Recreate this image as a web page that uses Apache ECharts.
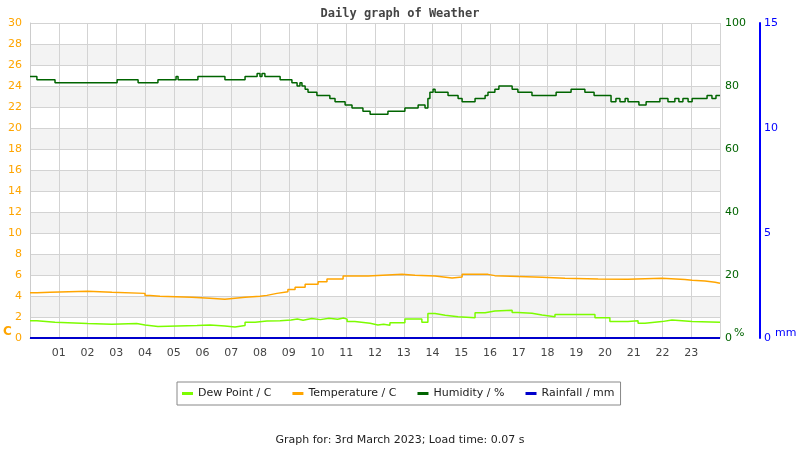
<!DOCTYPE html>
<html>
<head>
<meta charset="utf-8">
<script src="https://cdn.jsdelivr.net/npm/echarts@6/dist/echarts.min.js"></script>
<style>
  html, body { margin: 0; padding: 0; background: #fff; }
  #chart { width: 800px; height: 450px; }
</style>
</head>
<body>
<div id="chart"></div>
<script>
// readings as [hour, value], value holds until the next point
const dewPoint = [
  [0, 1.65], [0.24, 1.5], [0.87, 1.37], [2.0, 1.3], [2.85, 1.37], [3.71, 1.24], [4.0, 1.1],
  [4.45, 1.18], [5.81, 1.24], [6.26, 1.14], [6.78, 1.05], [7.13, 1.18], [7.48, 1.5], [7.83, 1.62],
  [8.24, 1.65], [8.7, 1.71], [9.08, 1.81], [9.3, 1.7], [9.5, 1.85], [9.8, 1.75], [10.1, 1.87],
  [10.4, 1.78], [10.7, 1.9], [10.9, 1.8], [11.03, 1.56], [11.3, 1.4], [11.83, 1.24], [12.1, 1.32],
  [12.3, 1.22], [12.52, 1.45], [13.04, 1.81], [13.63, 1.49], [13.84, 2.33], [14.09, 2.17],
  [14.44, 2.02], [14.89, 1.94], [15.48, 2.4], [15.83, 2.57], [16.17, 2.65], [16.77, 2.44],
  [16.97, 2.35], [17.46, 2.19], [17.81, 2.03], [18.26, 2.25], [19.65, 1.94], [20.17, 1.56],
  [20.8, 1.65], [21.15, 1.4], [21.39, 1.56], [21.98, 1.71], [22.33, 1.56], [23.03, 1.49], [24, 1.49]
];
const temperature = [
  [0, 4.3], [0.24, 4.35], [0.7, 4.45], [2.0, 4.35], [2.85, 4.25], [4.0, 4.05], [4.17, 3.97],
  [4.52, 3.87], [5.63, 3.78], [6.26, 3.68], [6.78, 3.78], [7.13, 3.87], [7.48, 3.97], [8.0, 4.06],
  [8.24, 4.25], [8.59, 4.4], [8.97, 4.63], [9.22, 4.83], [9.57, 5.11], [10.02, 5.36], [10.33, 5.62],
  [10.89, 5.9], [11.76, 6.06], [12.94, 5.97], [13.39, 5.9], [14.09, 5.71], [14.68, 5.81],
  [15.03, 6.06], [15.93, 5.94], [16.17, 5.78], [17.81, 5.68], [18.61, 5.62], [19.76, 5.59],
  [20.8, 5.68], [21.98, 5.56], [22.78, 5.49], [23.03, 5.43], [23.48, 5.3], [23.83, 5.21], [24, 5.21]
];
const humidity = [
  [0, 83], [0.24, 82], [0.87, 81], [3.03, 82], [3.76, 81], [4.45, 82], [5.08, 83], [5.15, 82],
  [5.84, 83], [6.78, 82], [7.48, 83], [7.9, 84], [8.0, 83], [8.07, 84], [8.17, 83], [8.7, 82],
  [9.11, 81], [9.29, 80], [9.39, 81], [9.46, 80], [9.57, 79], [9.67, 78], [9.98, 77], [10.43, 76],
  [10.61, 75], [10.96, 74], [11.2, 73], [11.58, 72], [11.83, 71], [12.45, 72], [13.04, 73],
  [13.5, 74], [13.74, 73], [13.84, 76], [13.91, 78], [14.02, 79], [14.09, 78], [14.54, 77],
  [14.89, 76], [15.03, 75], [15.48, 76], [15.83, 77], [15.93, 78], [16.17, 79], [16.31, 80],
  [16.77, 79], [16.97, 78], [17.46, 77], [18.3, 78], [18.82, 79], [19.3, 78], [19.62, 77],
  [20.21, 75], [20.38, 76], [20.52, 75], [20.7, 76], [20.8, 75], [21.18, 74], [21.43, 75],
  [21.91, 76], [22.19, 75], [22.43, 76], [22.57, 75], [22.71, 76], [22.89, 75], [23.03, 76],
  [23.55, 77], [23.72, 76], [23.86, 77], [24, 77]
];
const rainfall = [[0, 0], [24, 0]];

const hourLabels = ['', '01', '02', '03', '04', '05', '06', '07', '08', '09', '10', '11', '12',
  '13', '14', '15', '16', '17', '18', '19', '20', '21', '22', '23', ''];

const chart = echarts.init(document.getElementById('chart'));

function lineSeries(name, data, axis, color, width) {
  return {
    name: name,
    type: 'line',
    data: data,
    yAxisIndex: axis,
    step: 'end',
    showSymbol: false,
    symbol: 'none',
    color: color,
    lineStyle: { color: color, width: width }
  };
}

chart.setOption({
  animation: false,
  textStyle: { fontFamily: 'DejaVu Sans' },
  title: [{
    text: 'Daily graph of Weather',
    left: 'center',
    top: 3,
    textStyle: { fontFamily: 'DejaVu Sans Mono', fontWeight: 'bold', fontSize: 12, color: '#444' }
  }, {
    text: 'Graph for: 3rd March 2023; Load time: 0.07 s',
    left: 'center',
    top: 430,
    textStyle: { fontFamily: 'DejaVu Sans', fontWeight: 'normal', fontSize: 11, color: '#222' }
  }],
  legend: {
    left: 177,
    top: 382,
    padding: [6, 6, 6, 5],
    borderColor: '#888',
    borderWidth: 1,
    itemGap: 21,
    itemWidth: 11,
    itemHeight: 3,
    icon: 'rect',
    textStyle: { fontSize: 11, color: '#222' },
    data: ['Dew Point / C', 'Temperature / C', 'Humidity / %', 'Rainfall / mm']
  },
  grid: { left: 30, right: 80, top: 23, bottom: 112 },
  xAxis: {
    type: 'value',
    min: 0,
    max: 24,
    interval: 1,
    axisLine: { lineStyle: { color: '#ccc' } },
    axisTick: { show: false },
    axisLabel: {
      color: '#444',
      fontSize: 11,
      margin: 10,
      formatter: v => hourLabels[v]
    },
    splitLine: { show: true, lineStyle: { color: '#d3d3d3' } }
  },
  yAxis: [{
    type: 'value',
    min: 0,
    max: 30,
    interval: 2,
    position: 'left',
    axisLine: { show: true, lineStyle: { color: '#ccc' } },
    axisTick: { show: false },
    axisLabel: { color: '#ffa500', fontSize: 11, margin: 8 },
    splitLine: { lineStyle: { color: '#d3d3d3' } },
    splitArea: { show: true, areaStyle: { color: ['rgba(255,255,255,0)', '#f3f3f3'] } }
  }, {
    type: 'value',
    min: 0,
    max: 100,
    interval: 20,
    position: 'right',
    axisLine: { show: false },
    axisTick: { show: false },
    axisLabel: { color: '#006400', fontSize: 11, margin: 5 },
    splitLine: { show: false }
  }, {
    type: 'value',
    min: 0,
    max: 15,
    interval: 5,
    position: 'right',
    offset: 40,
    axisLine: { show: true, lineStyle: { color: '#0000ff', width: 2 } },
    axisTick: { show: false },
    axisLabel: { color: '#0000ff', fontSize: 11, margin: 4 },
    splitLine: { show: false }
  }],
  graphic: [
    { type: 'text', left: 3, top: 326, style: { text: 'C', fill: '#ffa500', font: 'bold 12px DejaVu Sans' } },
    { type: 'text', left: 734, top: 328, style: { text: '%', fill: '#006400', font: '11px DejaVu Sans' } },
    { type: 'text', left: 775, top: 328, style: { text: 'mm', fill: '#0000ff', font: '11px DejaVu Sans' } }
  ],
  series: [
    lineSeries('Dew Point / C', dewPoint, 0, '#7cfc00', 1.5),
    lineSeries('Temperature / C', temperature, 0, '#ffa500', 1.5),
    lineSeries('Humidity / %', humidity, 1, '#006400', 1.5),
    lineSeries('Rainfall / mm', rainfall, 2, '#0000cc', 2)
  ]
});
</script>
</body>
</html>
